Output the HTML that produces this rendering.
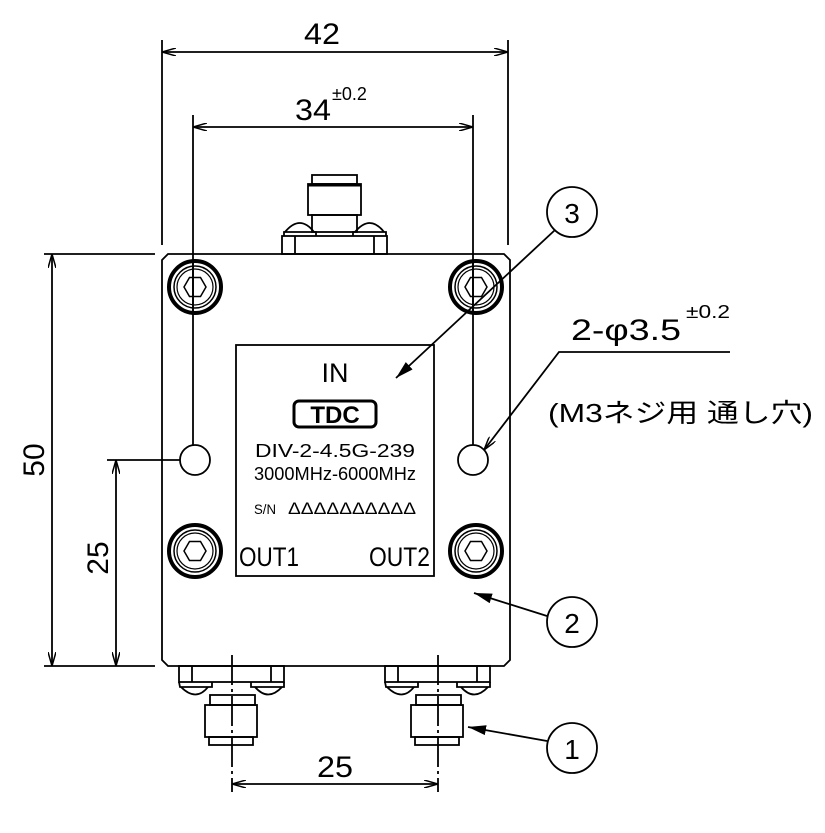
<!DOCTYPE html>
<html><head><style>
html,body{margin:0;padding:0;background:#fff}
svg{display:block}
text{font-family:"Liberation Sans","Noto Sans CJK JP",sans-serif;fill:#000}
</style></head><body>
<svg width="825" height="833" viewBox="0 0 825 833" xmlns="http://www.w3.org/2000/svg">
<defs>
<marker id="a" markerWidth="14" markerHeight="8" refX="14" refY="4" orient="auto-start-reverse" markerUnits="userSpaceOnUse"><path d="M0,0 L14,4 L0,8" fill="none" stroke="#000" stroke-width="1.5"/></marker>
<marker id="f" markerWidth="18" markerHeight="10" refX="18" refY="5" orient="auto" markerUnits="userSpaceOnUse"><path d="M0,0 L18,5 L0,10 Z" fill="#000"/></marker>
<g id="scr"><circle r="26" fill="none" stroke="#000" stroke-width="4"/><circle r="21" fill="none" stroke="#000" stroke-width="1.5"/><circle r="18" fill="none" stroke="#000" stroke-width="1.2"/><polygon points="-11,0 -5.5,-9.5 5.5,-9.5 11,0 5.5,9.5 -5.5,9.5" fill="none" stroke="#000" stroke-width="1.5"/></g>
<g id="bc" fill="none" stroke="#000" stroke-width="1.8">
<rect x="-53" y="0" width="105" height="16"/><line x1="-40" y1="0" x2="-40" y2="16"/><line x1="39" y1="0" x2="39" y2="16"/>
<path d="M-53,16 L-52,21 L-20,21 L-20,16"/><path d="M-51,21 Q-36,36 -24,21"/>
<path d="M19,16 L19,21 L52,21 L52,16"/><path d="M23,21 Q36,36 50,21"/>
<rect x="-22" y="29" width="45" height="10"/><rect x="-27" y="39" width="52" height="32"/><rect x="-23" y="71" width="44" height="8"/>
</g>
</defs>
<g stroke="#000" stroke-width="1.8" fill="none">
<path d="M168,254 L504,254 L510,260 L510,660 L504,666 L168,666 L162,660 L162,260 Z"/>
<rect x="236" y="345" width="198" height="231"/>
<rect x="282" y="236" width="105" height="18"/><line x1="295" y1="236" x2="295" y2="254"/><line x1="374" y1="236" x2="374" y2="254"/>
<path d="M284,236 L284,232 L316,232 L316,236"/><path d="M285,232 Q300,214 314,232"/>
<path d="M353,236 L353,232 L386,232 L386,236"/><path d="M355,232 Q370,214 384,232"/>
<rect x="312" y="215" width="45" height="17"/><rect x="308" y="184" width="53" height="31"/><rect x="312" y="175" width="45" height="9"/>
<line x1="308" y1="185" x2="361" y2="185" stroke-width="3"/>
<circle cx="195" cy="460" r="15"/><circle cx="473" cy="460" r="15"/>
<line x1="162" y1="40" x2="162" y2="245"/><line x1="508" y1="40" x2="508" y2="245"/>
<line x1="193" y1="115" x2="193" y2="445"/><line x1="473" y1="115" x2="473" y2="445"/>
<line x1="44" y1="254" x2="155" y2="254"/><line x1="44" y1="666" x2="155" y2="666"/>
<line x1="107" y1="460" x2="180" y2="460"/>
<line x1="232" y1="655" x2="232" y2="792" stroke-dasharray="30,4,3,4"/>
<line x1="438" y1="655" x2="438" y2="792" stroke-dasharray="30,4,3,4"/>
<line x1="162" y1="52" x2="508" y2="52" marker-start="url(#a)" marker-end="url(#a)"/>
<line x1="193" y1="127" x2="473" y2="127" marker-start="url(#a)" marker-end="url(#a)"/>
<line x1="52" y1="254" x2="52" y2="666" marker-start="url(#a)" marker-end="url(#a)"/>
<line x1="116" y1="460" x2="116" y2="666" marker-start="url(#a)" marker-end="url(#a)"/>
<line x1="232" y1="784" x2="438" y2="784" marker-start="url(#a)" marker-end="url(#a)"/>
<circle cx="572" cy="212" r="25"/><circle cx="572" cy="622" r="25"/><circle cx="572" cy="748" r="25"/>
<line x1="555" y1="230" x2="396" y2="378" marker-end="url(#f)"/>
<line x1="547" y1="616" x2="474" y2="593" marker-end="url(#f)"/>
<line x1="547" y1="741" x2="468" y2="727" marker-end="url(#f)"/>
<polyline points="730,352 559,352 484,450" marker-end="url(#a)"/>
</g>
<use href="#scr" x="195" y="287"/><use href="#scr" x="476" y="287"/>
<use href="#scr" x="195" y="551"/><use href="#scr" x="476" y="551"/>
<use href="#bc" x="232" y="666"/><use href="#bc" x="438" y="666"/>
<line x1="193" y1="260" x2="193" y2="315" stroke="#000" stroke-width="1.8"/><line x1="473" y1="260" x2="473" y2="315" stroke="#000" stroke-width="1.8"/>
<text x="304" y="44" font-size="30" textLength="36" lengthAdjust="spacingAndGlyphs">42</text>
<text x="295" y="120" font-size="30" textLength="36" lengthAdjust="spacingAndGlyphs">34</text>
<text x="332" y="100" font-size="18">±0.2</text>
<text x="317" y="777" font-size="30" textLength="36" lengthAdjust="spacingAndGlyphs">25</text>
<text transform="translate(44,460) rotate(-90)" font-size="30" text-anchor="middle">50</text>
<text transform="translate(108,558) rotate(-90)" font-size="30" text-anchor="middle">25</text>
<text x="572" y="223" font-size="28" text-anchor="middle">3</text>
<text x="572" y="633" font-size="28" text-anchor="middle">2</text>
<text x="572" y="759" font-size="28" text-anchor="middle">1</text>
<text x="571" y="340" font-size="30" textLength="110" lengthAdjust="spacingAndGlyphs">2-φ3.5</text>
<text x="686" y="318" font-size="18" textLength="44" lengthAdjust="spacingAndGlyphs">±0.2</text>
<text x="548" y="422" font-size="26" textLength="265" lengthAdjust="spacingAndGlyphs">(M3ネジ用  通し穴)</text>
<text x="335" y="382" font-size="27" text-anchor="middle">IN</text>
<rect x="294" y="401" width="82" height="26" rx="5" fill="#fff" stroke="#000" stroke-width="3"/>
<text x="335" y="423" font-size="24" font-weight="bold" text-anchor="middle">TDC</text>
<text x="255" y="457" font-size="18" textLength="160" lengthAdjust="spacingAndGlyphs">DIV-2-4.5G-239</text>
<text x="254" y="480" font-size="18" textLength="162" lengthAdjust="spacingAndGlyphs">3000MHz-6000MHz</text>
<text x="254" y="514" font-size="14" textLength="22" lengthAdjust="spacingAndGlyphs">S/N</text>
<text x="288" y="514" font-size="17" textLength="128" lengthAdjust="spacingAndGlyphs">ΔΔΔΔΔΔΔΔΔΔ</text>
<text x="239" y="566" font-size="27" textLength="60" lengthAdjust="spacingAndGlyphs">OUT1</text>
<text x="369" y="566" font-size="27" textLength="61" lengthAdjust="spacingAndGlyphs">OUT2</text>
</svg>
</body></html>
